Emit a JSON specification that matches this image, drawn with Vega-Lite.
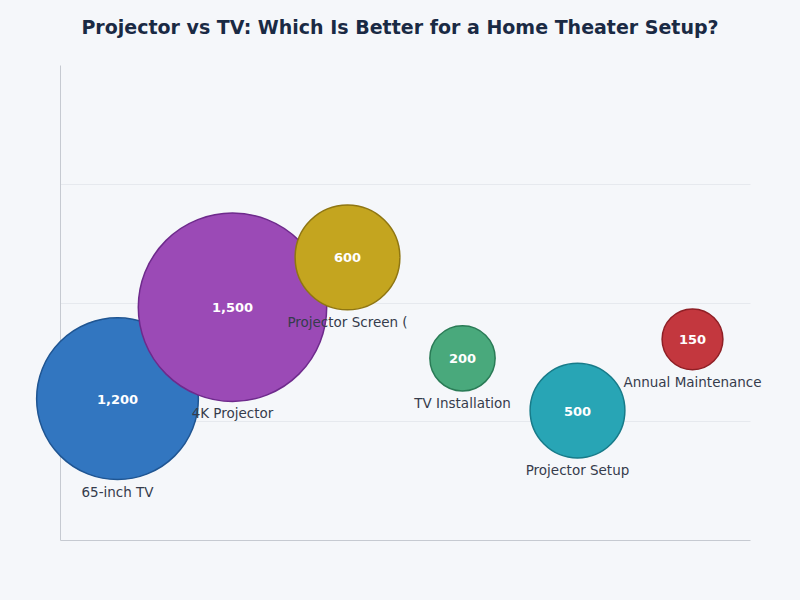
{
  "$schema": "https://vega.github.io/schema/vega-lite/v6.json",
  "width": 690,
  "height": 475,
  "autosize": {"type": "none"},
  "padding": {"left": 60, "top": 65, "right": 50, "bottom": 60},
  "background": "#f5f7fa",
  "config": {"view": {"stroke": null}},
  "title": {
    "text": "Projector vs TV: Which Is Better for a Home Theater Setup?",
    "font": "DejaVu Sans",
    "fontSize": 19,
    "fontWeight": "bold",
    "color": "#1a2a44",
    "anchor": "middle",
    "dx": -5,
    "offset": 27
  },
  "data": {
    "values": [
      {"item": "65-inch TV", "cost": 1200, "score": 1.19},
      {"item": "4K Projector", "cost": 1500, "score": 1.96},
      {"item": "Projector Screen (", "cost": 600, "score": 2.38},
      {"item": "TV Installation", "cost": 200, "score": 1.53},
      {"item": "Projector Setup", "cost": 500, "score": 1.09},
      {"item": "Annual Maintenance", "cost": 150, "score": 1.69}
    ]
  },
  "encoding": {
    "x": {
      "field": "item",
      "type": "nominal",
      "sort": null,
      "scale": {"type": "point", "padding": 0.5},
      "axis": {
        "title": null,
        "labels": false,
        "ticks": false,
        "grid": false,
        "domain": true,
        "domainColor": "#c6cad1",
        "domainWidth": 1
      }
    },
    "y": {
      "field": "score",
      "type": "quantitative",
      "scale": {"domain": [0, 4], "nice": false, "zero": true},
      "axis": {
        "title": null,
        "labels": false,
        "ticks": false,
        "values": [1, 2, 3],
        "grid": true,
        "gridColor": "#e6e9ee",
        "gridWidth": 1,
        "domain": true,
        "domainColor": "#c6cad1",
        "domainWidth": 1
      }
    }
  },
  "layer": [
    {
      "mark": {"type": "circle", "opacity": 1, "fillOpacity": 1, "strokeWidth": 1.5},
      "encoding": {
        "size": {
          "field": "cost",
          "type": "quantitative",
          "scale": {"type": "pow", "exponent": 1.5, "domain": [150, 1500], "range": [3700, 35500]},
          "legend": null
        },
        "color": {
          "field": "item",
          "type": "nominal",
          "sort": null,
          "scale": {
            "domain": ["65-inch TV", "4K Projector", "Projector Screen (", "TV Installation", "Projector Setup", "Annual Maintenance"],
            "range": ["#3276c0", "#9b4ab6", "#c4a51f", "#49a97c", "#28a5b5", "#c3373e"]
          },
          "legend": null
        },
        "stroke": {
          "field": "item",
          "type": "nominal",
          "sort": null,
          "scale": {
            "domain": ["65-inch TV", "4K Projector", "Projector Screen (", "TV Installation", "Projector Setup", "Annual Maintenance"],
            "range": ["#1f5592", "#6e2a8c", "#8f7612", "#2a7b56", "#177b89", "#8f1f25"]
          },
          "legend": null
        }
      }
    },
    {
      "mark": {
        "type": "text",
        "font": "DejaVu Sans",
        "fontSize": 13,
        "fontWeight": "bold",
        "color": "#ffffff",
        "baseline": "middle",
        "align": "center",
        "dy": 1
      },
      "encoding": {
        "text": {"field": "cost", "type": "quantitative", "format": ","}
      }
    },
    {
      "mark": {
        "type": "text",
        "font": "DejaVu Sans",
        "fontSize": 13.5,
        "color": "#353c4c",
        "baseline": "middle",
        "align": "center",
        "dy": {"expr": "sqrt(scale('size', datum.cost)) / 2 + 13"}
      },
      "encoding": {
        "text": {"field": "item", "type": "nominal"}
      }
    }
  ]
}
